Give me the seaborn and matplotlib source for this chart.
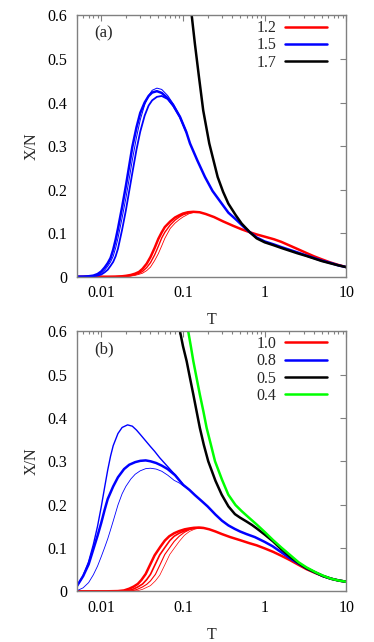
import numpy as np
import pandas as pd
import matplotlib
matplotlib.use("Agg")
import matplotlib.pyplot as plt
import matplotlib.ticker as mticker
import seaborn as sns

sns.set_style("white")
plt.rcParams['font.family'] = ['Liberation Serif', 'DejaVu Serif']

# ---- panel (a) data ----
T_a_blue = [0.005, 0.006, 0.007, 0.008, 0.009, 0.010, 0.011, 0.012, 0.013, 0.014, 0.015, 0.016, 0.018,
            0.020, 0.022, 0.024, 0.027, 0.030, 0.034, 0.038, 0.042, 0.048, 0.055, 0.065, 0.076, 0.092,
            0.11, 0.122, 0.15, 0.186, 0.23, 0.298, 0.36, 0.454, 0.55, 0.66, 0.8, 1.0, 1.3, 1.6, 2.0,
            2.5, 3.2, 4.0, 5.0, 6.3, 8.0, 10.0]
a_blue = [0.0, 0.0003, 0.001, 0.0025, 0.006, 0.012, 0.021, 0.031, 0.043, 0.062, 0.085, 0.110, 0.160,
          0.208, 0.255, 0.298, 0.343, 0.376, 0.400, 0.415, 0.423, 0.426, 0.422, 0.410, 0.394, 0.367,
          0.332, 0.306, 0.267, 0.229, 0.197, 0.168, 0.147, 0.130, 0.115, 0.102, 0.090, 0.081, 0.074,
          0.068, 0.062, 0.056, 0.049, 0.043, 0.037, 0.032, 0.026, 0.022]

T_a_blue_v = [0.005, 0.006, 0.007, 0.008, 0.009, 0.010, 0.011, 0.012, 0.013, 0.014, 0.015, 0.016, 0.018,
              0.020, 0.022, 0.024, 0.027, 0.030, 0.034, 0.038, 0.042, 0.048, 0.055, 0.065, 0.076, 0.092, 0.11]
a_blue_thin = [0.0, 0.0001, 0.0006, 0.0015, 0.004, 0.008, 0.015, 0.024, 0.034, 0.047, 0.066, 0.088, 0.135,
               0.180, 0.225, 0.268, 0.320, 0.360, 0.395, 0.416, 0.428, 0.433, 0.430, 0.416, 0.397, 0.368, 0.332]
a_blue_mid = [0.0, 0.0, 0.0003, 0.001, 0.0025, 0.005, 0.010, 0.016, 0.025, 0.034, 0.047, 0.064, 0.108,
              0.152, 0.197, 0.238, 0.292, 0.333, 0.370, 0.393, 0.405, 0.413, 0.415, 0.408, 0.392, 0.366, 0.332]

T_a_red = [0.005, 0.012, 0.015, 0.018, 0.020, 0.023, 0.026, 0.029, 0.032, 0.036, 0.040, 0.045, 0.050,
           0.055, 0.060, 0.070, 0.080, 0.090, 0.10, 0.115, 0.134, 0.16, 0.19, 0.24, 0.31, 0.41, 0.52,
           0.66, 0.8, 1.0, 1.3, 1.6, 2.0, 2.5, 3.2, 4.0, 5.0, 6.3, 8.0, 10.0]
a_red = [0.0, 0.0, 0.0003, 0.001, 0.002, 0.004, 0.007, 0.011, 0.018, 0.030, 0.045, 0.066, 0.087,
         0.102, 0.114, 0.127, 0.136, 0.141, 0.145, 0.148, 0.149, 0.148, 0.144, 0.137, 0.127, 0.117, 0.109,
         0.102, 0.097, 0.092, 0.086, 0.080, 0.072, 0.064, 0.055, 0.047, 0.040, 0.033, 0.027, 0.022]

T_a_red_v = [0.015, 0.020, 0.023, 0.026, 0.029, 0.032, 0.036, 0.040, 0.045, 0.050, 0.055, 0.060, 0.070,
             0.080, 0.090, 0.10, 0.12, 0.14]
a_red_2 = [0.0002, 0.001, 0.0025, 0.005, 0.0077, 0.012, 0.021, 0.032, 0.050, 0.070, 0.089, 0.102, 0.119,
           0.130, 0.137, 0.142, 0.147, 0.149]
a_red_3 = [0.0001, 0.0006, 0.0015, 0.003, 0.0055, 0.008, 0.014, 0.022, 0.037, 0.053, 0.071, 0.088, 0.111,
           0.123, 0.131, 0.137, 0.145, 0.148]

T_a_black = [0.12, 0.128, 0.14, 0.157, 0.177, 0.21, 0.266, 0.31, 0.359, 0.44, 0.523, 0.66, 0.8, 1.0,
             1.3, 1.6, 2.0, 2.5, 3.2, 4.0, 5.0, 6.3, 8.0, 10.0]
a_black = [0.65, 0.600, 0.535, 0.459, 0.382, 0.306, 0.229, 0.195, 0.168, 0.142, 0.122, 0.102, 0.088, 0.079,
           0.072, 0.066, 0.060, 0.054, 0.048, 0.042, 0.036, 0.031, 0.026, 0.022]

labels_a = ["1.2", "1.5", "1.7"]

# ---- panel (b) data ----
T_b_red = [0.005, 0.012, 0.016, 0.019, 0.022, 0.025, 0.028, 0.031, 0.035, 0.040, 0.045, 0.053, 0.060,
           0.068, 0.078, 0.09, 0.105, 0.12, 0.136, 0.154, 0.18, 0.21, 0.25, 0.30, 0.38, 0.5, 0.65, 0.8,
           1.0, 1.27, 1.6, 2.04, 2.6, 3.26, 4.2, 5.2, 6.5, 8.0, 10.0]
b_red = [0.0, 0.0, 0.0005, 0.002, 0.006, 0.011, 0.017, 0.026, 0.040, 0.063, 0.083, 0.103, 0.117,
         0.127, 0.134, 0.139, 0.143, 0.145, 0.1465, 0.147, 0.146, 0.143, 0.138, 0.132, 0.125, 0.118, 0.111,
         0.106, 0.099, 0.091, 0.082, 0.072, 0.061, 0.051, 0.042, 0.035, 0.029, 0.025, 0.022]

T_b_red_v = [0.016, 0.019, 0.022, 0.025, 0.028, 0.032, 0.036, 0.040, 0.046, 0.052, 0.060, 0.069, 0.078,
             0.09, 0.104, 0.12, 0.138, 0.16, 0.18]
b_red_2 = [0.0001, 0.0006, 0.002, 0.0055, 0.010, 0.0167, 0.027, 0.039, 0.063, 0.084, 0.101, 0.117, 0.127,
           0.134, 0.139, 0.1435, 0.1455, 0.147, 0.1465]
b_red_3 = [0.0, 0.0003, 0.001, 0.002, 0.005, 0.010, 0.016, 0.024, 0.039, 0.060, 0.085, 0.101, 0.115,
           0.127, 0.136, 0.142, 0.145, 0.147, 0.1465]
b_red_4 = [0.0, 0.0, 0.0005, 0.001, 0.0015, 0.0045, 0.009, 0.013, 0.024, 0.037, 0.061, 0.085, 0.099,
           0.115, 0.129, 0.138, 0.143, 0.146, 0.1465]

T_b_blue = [0.005, 0.006, 0.007, 0.008, 0.009, 0.010, 0.011, 0.012, 0.014, 0.016, 0.019, 0.022, 0.026,
            0.030, 0.035, 0.040, 0.047, 0.055, 0.065, 0.080, 0.10, 0.12, 0.14, 0.17, 0.20, 0.25, 0.30,
            0.36, 0.43, 0.5, 0.6, 0.76, 1.0, 1.25, 1.6, 2.04, 2.6, 3.26, 4.2, 5.2, 6.5, 8.0, 10.0]
b_blue = [0.011, 0.035, 0.062, 0.097, 0.128, 0.158, 0.188, 0.213, 0.242, 0.263, 0.282, 0.292, 0.298,
          0.301, 0.302, 0.300, 0.296, 0.290, 0.282, 0.268, 0.246, 0.234, 0.222, 0.208, 0.196, 0.177, 0.163,
          0.152, 0.144, 0.138, 0.132, 0.125, 0.114, 0.104, 0.090, 0.076, 0.064, 0.053, 0.043, 0.035, 0.029,
          0.025, 0.022]

T_b_blue_up = [0.005, 0.006, 0.007, 0.008, 0.009, 0.010, 0.011, 0.012, 0.013, 0.014, 0.016, 0.018, 0.021,
               0.024, 0.027, 0.030, 0.035, 0.040, 0.045, 0.052, 0.060, 0.070, 0.080, 0.10]
b_blue_up = [0.011, 0.036, 0.068, 0.108, 0.150, 0.195, 0.240, 0.280, 0.312, 0.336, 0.364, 0.378, 0.384,
             0.381, 0.372, 0.362, 0.347, 0.334, 0.323, 0.308, 0.295, 0.281, 0.269, 0.247]

T_b_blue_lo = [0.005, 0.006, 0.007, 0.008, 0.009, 0.010, 0.011, 0.012, 0.013, 0.014, 0.016, 0.018, 0.020,
               0.023, 0.026, 0.030, 0.035, 0.040, 0.047, 0.055, 0.065, 0.078, 0.09, 0.10, 0.12, 0.14]
b_blue_lo = [0.001, 0.008, 0.020, 0.038, 0.058, 0.080, 0.101, 0.121, 0.142, 0.162, 0.199, 0.225, 0.242,
             0.259, 0.270, 0.278, 0.283, 0.284, 0.282, 0.277, 0.268, 0.256, 0.250, 0.244, 0.234, 0.222]

T_b_black = [0.088, 0.092, 0.1, 0.111, 0.122, 0.134, 0.147, 0.161, 0.18, 0.204, 0.25, 0.298, 0.36, 0.433,
             0.5, 0.6, 0.7, 0.8, 1.0, 1.27, 1.6, 2.04, 2.6, 3.26, 4.2, 5.2, 6.5, 8.0, 10.0]
b_black = [0.630, 0.600, 0.566, 0.531, 0.492, 0.454, 0.415, 0.377, 0.338, 0.300, 0.255, 0.223, 0.196, 0.178,
           0.170, 0.161, 0.153, 0.145, 0.131, 0.115, 0.097, 0.080, 0.065, 0.053, 0.043, 0.035, 0.029, 0.025,
           0.022]

T_b_green = [0.11, 0.116, 0.125, 0.134, 0.147, 0.161, 0.178, 0.195, 0.22, 0.247, 0.3, 0.359, 0.44, 0.523,
             0.65, 0.8, 1.0, 1.27, 1.6, 2.04, 2.6, 3.26, 4.2, 5.2, 6.5, 8.0, 10.0]
b_green = [0.64, 0.600, 0.565, 0.531, 0.492, 0.454, 0.415, 0.377, 0.338, 0.300, 0.258, 0.223, 0.199, 0.185,
           0.169, 0.154, 0.137, 0.118, 0.101, 0.084, 0.067, 0.055, 0.044, 0.036, 0.029, 0.025, 0.022]

labels_b = ["1.0", "0.8", "0.5", "0.4"]

RED, BLUE, BLACK, GREEN = "#ff0000", "#0000ff", "#000000", "#00ff00"
GRAY = "#808080"
THICK = 1.8
FS = 11.5


def line(ax, T, y, color, lw, label=None):
    sns.lineplot(x=T, y=y, ax=ax, color=color, linewidth=lw, label=label, sort=False)


def style_axes(ax, tag):
    ax.set_xscale("log")
    ax.set_xlim(0.005, 10)
    ax.set_ylim(0, 0.6)
    ax.set_xticks([0.01, 0.1, 1, 10])
    ax.set_xticklabels(["0.01", "0.1", "1", "10"])
    ax.xaxis.set_minor_locator(mticker.LogLocator(base=10, subs=np.arange(2, 10), numticks=20))
    ax.xaxis.set_minor_formatter(mticker.NullFormatter())
    ax.set_yticks([0, 0.1, 0.2, 0.3, 0.4, 0.5, 0.6])
    ax.set_yticklabels(["0", "0.1", "0.2", "0.3", "0.4", "0.5", "0.6"])
    ax.tick_params(which="both", direction="in", top=True, right=True, color=GRAY,
                   labelcolor="black", labelsize=FS)
    ax.tick_params(axis="x", pad=6)
    ax.tick_params(axis="y", pad=7)
    ax.tick_params(which="major", length=4.5, width=0.8)
    ax.tick_params(which="minor", length=2.5, width=0.8)
    for s in ax.spines.values():
        s.set_color(GRAY)
        s.set_linewidth(1.0)
    ax.set_xlabel("T", fontsize=FS, labelpad=8)
    ax.set_ylabel("X/N", fontsize=FS, labelpad=5)
    ax.text(0.101, 0.93, tag, transform=ax.transAxes, fontsize=FS + 0.5, ha="center", va="center")


fig = plt.figure(figsize=(3.74, 6.42), dpi=100)
ax_a = fig.add_axes([0.205, 0.569, 0.721, 0.407])
ax_b = fig.add_axes([0.205, 0.079, 0.721, 0.405])

# panel (a)
line(ax_a, T_a_red_v, a_red_3, RED, 0.6)
line(ax_a, T_a_red_v, a_red_2, RED, 1.0)
line(ax_a, T_a_red, a_red, RED, THICK, labels_a[0])
line(ax_a, T_a_blue_v, a_blue_thin, BLUE, 0.7)
line(ax_a, T_a_blue_v, a_blue_mid, BLUE, 1.3)
line(ax_a, T_a_blue, a_blue, BLUE, THICK, labels_a[1])
line(ax_a, T_a_black, a_black, BLACK, THICK, labels_a[2])

# panel (b)
line(ax_b, T_b_red_v, b_red_4, RED, 0.5)
line(ax_b, T_b_red_v, b_red_3, RED, 0.8)
line(ax_b, T_b_red_v, b_red_2, RED, 1.2)
line(ax_b, T_b_red, b_red, RED, THICK, labels_b[0])
line(ax_b, T_b_blue_lo, b_blue_lo, BLUE, 0.6)
line(ax_b, T_b_blue_up, b_blue_up, BLUE, 1.0)
line(ax_b, T_b_blue, b_blue, BLUE, THICK, labels_b[1])
line(ax_b, T_b_black, b_black, BLACK, THICK, labels_b[2])
line(ax_b, T_b_green, b_green, GREEN, THICK, labels_b[3])

for ax, tag, labs in [(ax_a, "(a)", labels_a), (ax_b, "(b)", labels_b)]:
    style_axes(ax, tag)
    handles, names = ax.get_legend_handles_labels()
    keep = [(h, n) for h, n in zip(handles, names) if n in labs]
    ax.legend([h for h, n in keep], [n for h, n in keep], loc="upper right",
              bbox_to_anchor=(0.928, 0.982), frameon=False, markerfirst=False,
              fontsize=FS, handlelength=2.6, handletextpad=0.55, labelspacing=0.08,
              borderpad=0, borderaxespad=0)

fig.savefig("out.png", dpi=100)
